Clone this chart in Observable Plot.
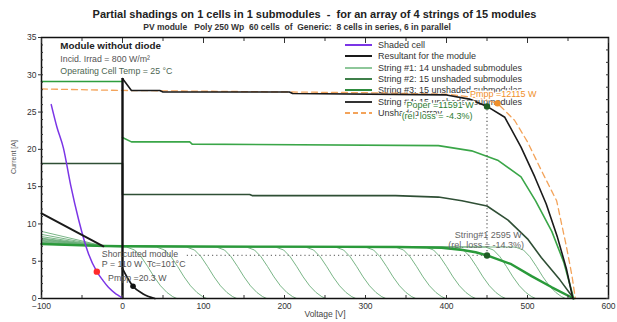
<!DOCTYPE html>
<html><head><meta charset="utf-8">
<script src="https://cdn.jsdelivr.net/npm/d3@7"></script>
<script src="https://cdn.jsdelivr.net/npm/@observablehq/plot@0.6"></script>
<style>
body{margin:0;background:#fff;font-family:"Liberation Sans",Arial,sans-serif;}
#wrap{position:relative;width:617px;height:322px;overflow:hidden;background:#fff;}
#title{position:absolute;left:6px;width:617px;top:8px;text-align:center;font-weight:bold;font-size:11px;color:#222;white-space:nowrap;}
#subtitle{position:absolute;left:0;width:594px;top:22px;text-align:center;font-weight:bold;font-size:8.5px;color:#333;white-space:nowrap;}
#legend{position:absolute;left:0;top:0;width:617px;height:322px;}
.lrow{position:absolute;left:345px;height:12px;font-size:9px;color:#333;white-space:nowrap;}
.lrow svg{position:absolute;left:0;top:2px;}
.lrow span{position:absolute;left:33px;top:0;line-height:12px;}
#chart{position:absolute;left:0;top:0;}
</style></head>
<body>
<div id="wrap">
  <div id="title">Partial shadings on 1 cells in 1 submodules&nbsp; - &nbsp;for an array of 4 strings of 15 modules</div>
  <div id="subtitle">PV module &nbsp; Poly 250 Wp &nbsp;60 cells &nbsp;of &nbsp;Generic: &nbsp;8 cells in series, 6 in parallel</div>
  <div id="legend"></div>
  <div id="chart"></div>
</div>
<script>
// ---------- data ----------
const xTicks = [-100, 0, 100, 200, 300, 400, 500, 600];
const yTicks = [0, 5, 10, 15, 20, 25, 30, 35];

// Shaded cell I-V (purple)
const shadedCellV = [-88, -81, -73, -64, -54, -42, -31.7, -24, -17.4, -9, -3, 0];
const shadedCellI = [26, 23, 20.2, 15.2, 10.5, 6.0, 3.6, 2.4, 1.5, 0.7, 0.27, 0];
const shortCutV = [-31.7];
const shortCutI = [3.6];

// Resultant for the module (black)
const moduleRevV = [-100, -23.6];
const moduleRevI = [11.4, 7.0];
const moduleFwdV = [0, 7, 13, 25, 40];
const moduleFwdI = [4.0, 2.6, 1.65, 0.65, 0];
const modulePmppV = [13];
const modulePmppI = [1.65];

// String #1 partial curves (thin green): open-circuit voltages and left currents
const subVoc = [67, 104, 141, 178, 215, 251, 288, 325, 362, 399, 436, 473, 510, 547];
const subLeftI = [9.0, 8.6, 8.3, 8.1, 8.0, 7.9, 7.8, 7.7, 7.6, 7.5, 7.5, 7.4, 7.4, 7.3];
const subKneeV = -22, subKneeI = 7.0;
const subDropOffset = [-62, -52, -44, -36, -28, -20, -12, -5, 0];
const subDropI = [6.9, 6.5, 5.6, 4.3, 2.9, 1.7, 0.8, 0.25, 0];

// String #1 resultant (thick green, ~7 A)
const string1V = [-100, -22, 0, 200, 341, 394, 420, 436, 450, 480, 505, 530, 557];
const string1I = [7.3, 7.05, 7.0, 6.95, 6.9, 6.8, 6.5, 6.2, 5.77, 4.6, 3.0, 1.5, 0];

// Two strings (dark, ~14 A) incl. the reverse part at 18 A
const string2V = [-100, 0, 0, 157, 160, 337, 390, 419, 450, 476, 500, 517, 540, 557];
const string2I = [18.1, 18.1, 13.95, 13.95, 13.8, 13.8, 13.6, 13.1, 12.4, 10.5, 8.0, 5.5, 2.5, 0];

// Three strings (green, ~21 A)
const string3V = [0, 11, 83, 86, 390, 431, 464, 492, 510, 530, 545, 557];
const string3I = [21.6, 21.0, 21.0, 20.7, 20.5, 19.8, 18.5, 16.3, 13.1, 9.0, 4.8, 0];

// Reverse part of the four-string sum (green, 29 A)
const string4RevV = [-100, 0];
const string4RevI = [29.1, 29.1];

// Array resultant (black, ~28 A)
const arrayV = [0, 11, 46, 50, 206, 210, 400, 430, 450, 472, 492, 509, 523, 537, 548, 556];
const arrayI = [29.5, 27.9, 27.9, 27.7, 27.7, 27.5, 27.3, 26.7, 25.76, 24.3, 20.3, 16.3, 12.7, 8.2, 4.0, 0];
const arrayVertTop = [29.5];

// Unshaded array (orange dashed)
const unshV = [-100, 0, 100, 300, 400, 440, 463, 484, 500, 517, 536, 548, 555, 559];
const unshI = [28.1, 27.9, 27.8, 27.6, 27.4, 26.9, 26.17, 23.9, 21.0, 17.2, 13.1, 7.0, 3.0, 0];

// Operating points
const operV = [450], operI = [25.76];
const pmppV = [463], pmppI = [26.17];
const str1OpV = [450], str1OpI = [5.77];
const dottedStartV = [80];

// Annotations [x, y, text]
const notesX = [-76.8, -76.8, -76.8, -25.6, -25.6, -17.8];
const notesY = [33.83, 32.05, 30.48, 6.0, 4.65, 2.78];
const notesText = ["Module without diode", "Incid. Irrad = 800 W/m²", "Operating Cell Temp = 25 °C",
  "Shortcutted module", "P = 110 W  Tc=101°C", "Pmpp =20.3 W"];

const legendLabels = ["Shaded cell", "Resultant for the module", "String #1: 14 unshaded submodules",
  "String #2: 15 unshaded submodules", "String #3: 15 unshaded submodules",
  "String #4: 15 unshaded submodules", "Unshaded array"];
const legendColors = ["#7b35e6", "#1a1a1a", "#8ec79a", "#3f7f4a", "#2e8b3e", "#333333", "#f3a35a"];
const legendDash = [null, null, null, null, null, null, "5,3"];

// ---------- build tables ----------
const zip = (V, I, s) => V.map((v, k) => ({v, i: I[k], s}));
const subRows = [];
subVoc.forEach((voc, k) => {
  subRows.push({v: -100, i: subLeftI[k], s: k});
  subRows.push({v: subKneeV, i: subKneeI, s: k});
  subDropOffset.forEach((o, j) => subRows.push({v: voc + o, i: subDropI[j], s: k}));
});

const lineOpts = (stroke, w, extra = {}) => ({x: "v", y: "i", stroke, strokeWidth: w, curve: "monotone-x", ...extra});

const font = "Liberation Sans, Arial, sans-serif";

const plot = Plot.plot({
  width: 617, height: 322,
  marginLeft: 41, marginRight: 9, marginTop: 37, marginBottom: 24,
  style: {background: "transparent", fontFamily: font, color: "#333", overflow: "visible"},
  x: {domain: [-100, 600]},
  y: {domain: [0, 35]},
  marks: [
    Plot.line(subRows, {x: "v", y: "i", z: "s", stroke: "#6aad78", strokeWidth: 0.9, curve: "linear"}),
    Plot.line(zip(string2V, string2I, "s2"), {x: "v", y: "i", stroke: "#2f4f35", strokeWidth: 1.6, curve: "linear"}),
    Plot.line(zip(string3V, string3I, "s3"), {x: "v", y: "i", stroke: "#3aa648", strokeWidth: 1.6, curve: "linear"}),
    Plot.line(zip(string4RevV, string4RevI, "s4"), {x: "v", y: "i", stroke: "#2e9e3e", strokeWidth: 1.6}),
    Plot.line(zip(string1V, string1I, "s1"), {x: "v", y: "i", stroke: "#2a9a3a", strokeWidth: 2.4, curve: "linear"}),
    Plot.line(zip(unshV, unshI, "u"), {x: "v", y: "i", stroke: "#f3a35a", strokeWidth: 1.3, strokeDasharray: "6,4", curve: "linear"}),
    Plot.line(zip(arrayV, arrayI, "a"), {x: "v", y: "i", stroke: "#1a1a1a", strokeWidth: 1.6, curve: "linear"}),
    Plot.ruleX([0], {y1: 0, y2: arrayVertTop[0], stroke: "#111", strokeWidth: 2.4}),
    Plot.line(zip(shadedCellV, shadedCellI, "c"), {x: "v", y: "i", stroke: "#7b35e6", strokeWidth: 1.5, curve: "monotone-x"}),
    Plot.line(zip(moduleRevV, moduleRevI, "mr"), {x: "v", y: "i", stroke: "#1a1a1a", strokeWidth: 2}),
    Plot.line(zip(moduleFwdV, moduleFwdI, "mf"), {x: "v", y: "i", stroke: "#1a1a1a", strokeWidth: 1.8, curve: "monotone-x"}),
    // dotted guides
    Plot.ruleX(operV, {x: d => d, y1: str1OpI[0], y2: operI[0], stroke: "#555", strokeWidth: 1.2, strokeDasharray: "1.2,2.6"}),
    Plot.ruleY(str1OpI, {y: d => d, x1: dottedStartV[0], x2: str1OpV[0], stroke: "#777", strokeWidth: 1.2, strokeDasharray: "1.2,3"}),
    // points
    Plot.dot(zip(shortCutV, shortCutI, "r"), {x: "v", y: "i", r: 3.2, fill: "#ff2a2a"}),
    Plot.dot(zip(modulePmppV, modulePmppI, "p"), {x: "v", y: "i", r: 2.8, fill: "#111"}),
    Plot.dot(zip(pmppV, pmppI, "o"), {x: "v", y: "i", r: 3.2, fill: "#f0902a"}),
    Plot.dot(zip(operV, operI, "g"), {x: "v", y: "i", r: 3.2, fill: "#1f5e25"}),
    Plot.dot(zip(str1OpV, str1OpI, "g1"), {x: "v", y: "i", r: 3.2, fill: "#1f5e25"}),
    // annotations
    Plot.text([0], {x: notesX[0], y: notesY[0], text: () => notesText[0], textAnchor: "start", fontSize: 9.8, fontWeight: "bold", fill: "#222"}),
    Plot.text([0], {x: notesX[1], y: notesY[1], text: () => notesText[1], textAnchor: "start", fontSize: 8.8, fill: "#555"}),
    Plot.text([0], {x: notesX[2], y: notesY[2], text: () => notesText[2], textAnchor: "start", fontSize: 8.8, fill: "#4d6652"}),
    Plot.text([3, 4, 5], {x: i => notesX[i], y: i => notesY[i], text: i => notesText[i], textAnchor: "start", fontSize: 8.8, fill: "#555"}),
    Plot.text([0], {x: 429, y: 27.45, text: () => "Pmpp =12115 W", textAnchor: "start", fontSize: 9, fill: "#f0902a", stroke: "white", strokeWidth: 3}),
    Plot.text([0], {x: 350.7, y: 25.88, text: () => "Poper =11591 W", textAnchor: "start", fontSize: 9, fill: "#2e7d32", stroke: "white", strokeWidth: 3}),
    Plot.text([0], {x: 344.6, y: 24.45, text: () => "(rel. loss = -4.3%)", textAnchor: "start", fontSize: 9, fill: "#2e7d32", stroke: "white", strokeWidth: 3}),
    Plot.text([0], {x: 451.5, y: 8.45, text: () => "String#1 2595 W", fontSize: 9, fill: "#666"}),
    Plot.text([0], {x: 449, y: 7.2, text: () => "(rel. loss = -14.3%)", fontSize: 9, fill: "#666"}),
    // axes
    Plot.frame({stroke: "#111", strokeWidth: 1.5}),
    Plot.axisX({anchor: "bottom", ticks: xTicks, tickSize: 0, tickPadding: 4, fontSize: 8.5, label: null}),
    Plot.axisX({anchor: "bottom", ticks: d3.range(-100, 601, 50), tickSize: 3, dy: -3, tickFormat: () => "", label: null}),
    Plot.axisX({anchor: "top", ticks: xTicks, tickSize: 5, dy: 5, tickFormat: () => "", label: null}),
    Plot.axisX({anchor: "top", ticks: d3.range(-50, 600, 100), tickSize: 3, dy: 3, tickFormat: () => "", label: null}),
    Plot.axisY({anchor: "left", ticks: yTicks, tickSize: 3, tickPadding: 2, fontSize: 8.5, label: null}),
    Plot.axisY({anchor: "left", ticks: d3.range(0, 35, 1), tickSize: 2, dx: 2, tickFormat: () => "", label: null}),
    Plot.axisY({anchor: "right", ticks: d3.range(0, 35, 5 / 3), tickSize: 3, dx: -3, tickFormat: () => "", label: null}),
    Plot.text(["Voltage [V]"], {frameAnchor: "bottom", dy: 18, text: d => d, fontSize: 8.5, fill: "#444"}),
    Plot.text(["Current [A]"], {frameAnchor: "left", dx: -28, dy: 6, rotate: -90, text: d => d, fontSize: 7, fill: "#555"})
  ]
});
document.getElementById("chart").appendChild(plot);

// legend (drawn beneath the chart layer)
const leg = document.getElementById("legend");
legendLabels.forEach((lab, k) => {
  const row = document.createElement("div");
  row.className = "lrow";
  row.style.top = (39 + k * 11.3) + "px";
  row.innerHTML = `<svg width="28" height="8"><line x1="0" y1="4" x2="27" y2="4" stroke="${legendColors[k]}" stroke-width="2" ${legendDash[k] ? `stroke-dasharray="${legendDash[k]}"` : ""}/></svg><span>${lab}</span>`;
  leg.appendChild(row);
});
</script>
</body></html>
